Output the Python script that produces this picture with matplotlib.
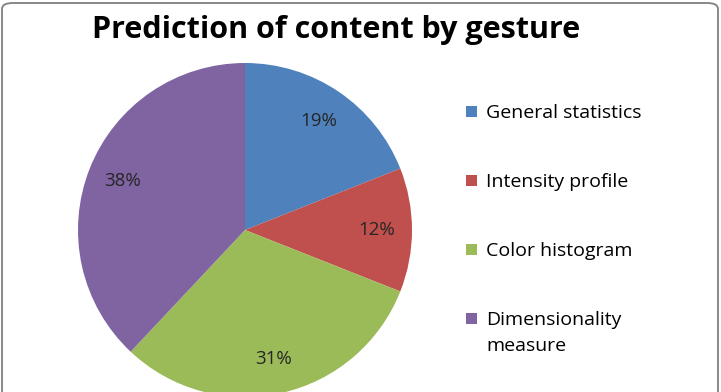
import matplotlib.pyplot as plt
from matplotlib.patches import FancyBboxPatch, Rectangle

# data
labels = ["General statistics", "Intensity profile", "Color histogram", "Dimensionality\nmeasure"]
shares = [19, 12, 31, 38]
colors = ["#4F81BD", "#C0504D", "#9BBB59", "#8064A2"]

plt.rcParams['font.family'] = ['Open Sans', 'DejaVu Sans']

W, H = 721, 392
fig = plt.figure(figsize=(W / 100, H / 100), dpi=100)

# chart area border
border = FancyBboxPatch((2 / W, -0.1), 716 / W, 1.1 - 3 / H,
                        boxstyle="round,pad=0,rounding_size=0.015",
                        transform=fig.transFigure, facecolor="none",
                        edgecolor="#7f7f7f", linewidth=1.3, zorder=-1)
fig.patches.append(border)

fig.text(336 / W, 1 - 30 / H, "Prediction of content by gesture", ha="center", va="center",
         fontsize=22, fontweight="bold", color="black")

ax = fig.add_axes([78 / W, -5 / H, 334 / W, 334 / H])
wedges, texts, autotexts = ax.pie(shares, colors=colors, startangle=90, counterclock=False,
                                  autopct="%d%%", pctdistance=0.79, radius=1,
                                  wedgeprops=dict(linewidth=0),
                                  textprops=dict(fontsize=13.5, color="#262626"))
for w in wedges:
    w.set_clip_on(False)
ax.set_xlim(-1, 1)
ax.set_ylim(-1, 1)
ax.set_aspect("equal")
ax.axis("off")

# legend
for i, (lab, col) in enumerate(zip(labels, colors)):
    yc = 111 + 69 * i
    fig.patches.append(Rectangle((466 / W, 1 - (yc + 5.5) / H), 11 / W, 11 / H,
                                 transform=fig.transFigure, facecolor=col, edgecolor="none"))
    fig.text(486 / W, 1 - (yc - 7) / H, lab, ha="left", va="top", fontsize=14,
             color="black", linespacing=1.6)

fig.savefig("out.png", dpi=100)
